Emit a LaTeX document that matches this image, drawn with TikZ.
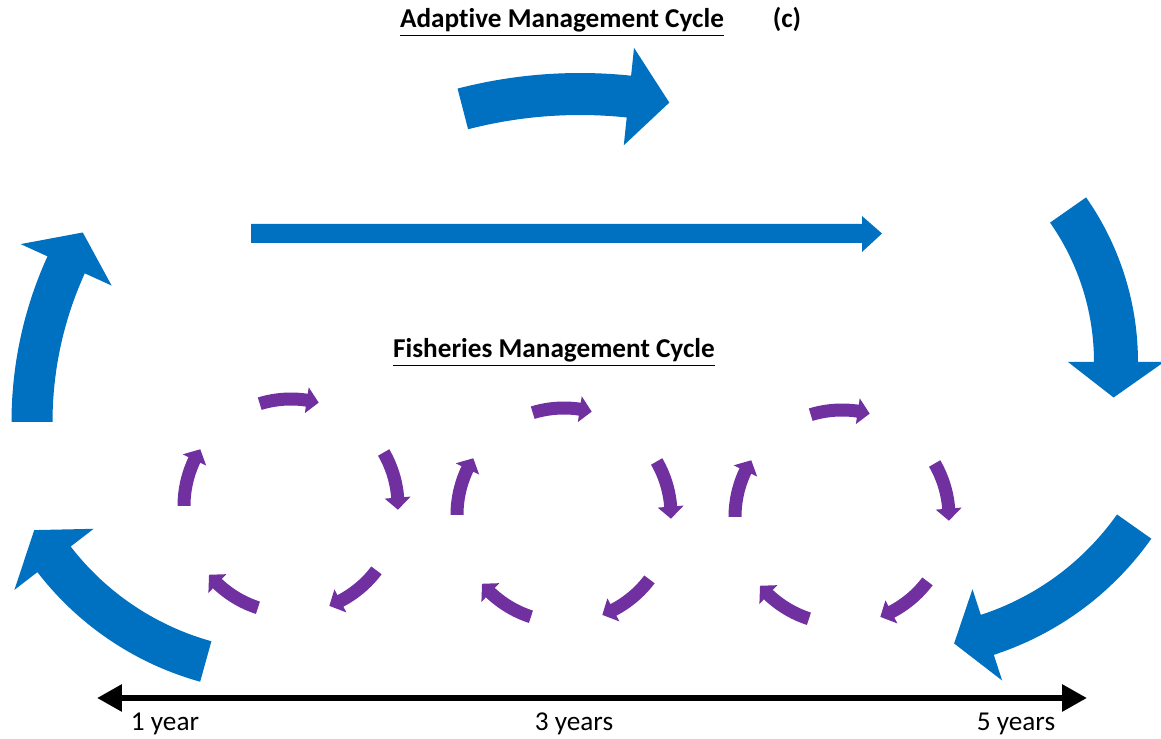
\documentclass[tikz,border=0pt]{standalone}
\usepackage{fontspec}
\setmainfont{Carlito}[Ligatures=NoCommon]
\usetikzlibrary{arrows.meta}
\definecolor{ablue}{HTML}{0070C0}
\definecolor{fpurple}{HTML}{7030A0}
% curved block arrow: cx, cy, R, tail angle, head-base angle, tip angle, body half width, head half width, colour
\newcommand{\bendarrow}[9]{%
  \fill[#9] plot[domain=#4:#5, samples=40] ({#1+(#3+#7)*cos(\x)},{#2+(#3+#7)*sin(\x)})
    -- ({#1+(#3+#8)*cos(#5)},{#2+(#3+#8)*sin(#5)})
    -- ({#1+#3*cos(#6)},{#2+#3*sin(#6)})
    -- ({#1+(#3-#8)*cos(#5)},{#2+(#3-#8)*sin(#5)})
    -- plot[domain=#5:#4, samples=40] ({#1+(#3-#7)*cos(\x)},{#2+(#3-#7)*sin(\x)}) -- cycle;}
\tikzset{
  ttl/.style={anchor=base, inner sep=0pt, font=\fontsize{15.5}{18}\selectfont\bfseries},
  axlbl/.style={anchor=base, inner sep=0pt, font=\fontsize{15.5}{18}\selectfont},
  axisline/.style={line width=3.4pt, {Triangle[length=0.5cm,width=0.52cm]}-{Triangle[length=0.5cm,width=0.52cm]}}
}
\begin{document}
\begin{tikzpicture}[x=0.02cm,y=0.02cm]
\useasboundingbox (0,0) rectangle (1161,738);
\fill[white] (0,0) rectangle (1161,738);

% titles
\node[ttl] (t1) at (562,710) {\underline{Adaptive Management Cycle}};
\node[ttl] (tc) at (787,710) {(c)};
\node[ttl] (t2) at (554,380) {\underline{Fisheries Management Cycle}};

% adaptive management cycle (blue)
\bendarrow{580}{176}{468}{104.5}{84}{79}{21}{49}{ablue}
\bendarrow{411}{316}{379}{180}{155.5}{150}{20.5}{50}{ablue}
\bendarrow{851}{376}{265}{35}{0}{-7.7}{22}{48}{ablue}
\bendarrow{283}{355}{289}{254.5}{217.6}{210.6}{21}{50}{ablue}
\bendarrow{898}{378}{289}{-35.2}{-72}{-78.8}{21}{48}{ablue}

% straight arrow
\fill[ablue] (251,514) -- (862,514) -- (862,522) -- (882,504.5) -- (862,486) -- (862,495) -- (251,495) -- cycle;

% fisheries management cycles (purple)
\foreach \cx/\cy in {291/232,564/223,842/221}{
  \foreach \s in {107,30,-37,-108,-180}{
    \bendarrow{\cx}{\cy}{107}{\s}{\s-25.5}{\s-32}{6.5}{13}{fpurple}
  }
}

% time axis
\coordinate (axL) at (97,40);
\coordinate (axR) at (1087,40);
\draw[axisline] (axL) -- (axR);
\node[axlbl] (y1) at (165,8) {1 year};
\node[axlbl] (y3) at (574,8) {3 years};
\node[axlbl] (y5) at (1016,8) {5 years};
\end{tikzpicture}
\end{document}
